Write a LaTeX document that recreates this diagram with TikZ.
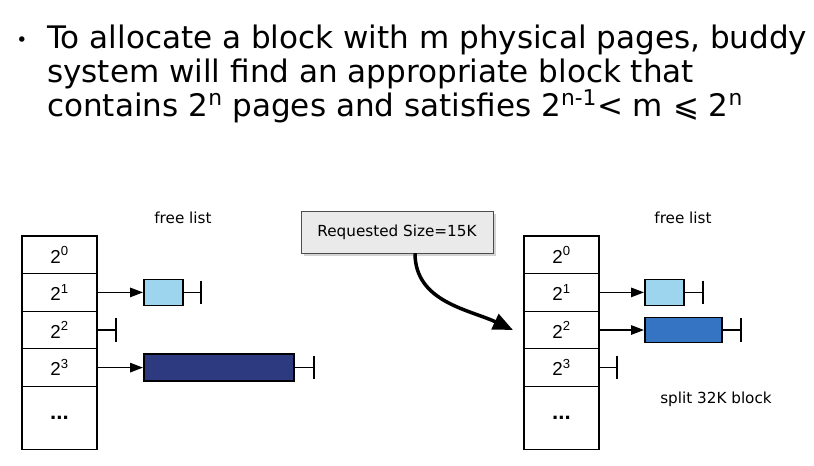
\documentclass[tikz,border=0pt]{standalone}
\usepackage{fontspec}
\setmainfont{DejaVu Sans}
\newfontfamily\cellfont{Liberation Sans}
\usepackage{tikz}
\usetikzlibrary{positioning,arrows.meta,shadows}

\definecolor{lightblk}{HTML}{9DD4EE}
\definecolor{splitblk}{HTML}{3574C2}
\definecolor{bigblk}{HTML}{2D3A7F}
\definecolor{reqgray}{HTML}{EBEAEA}

\begin{document}
\begin{tikzpicture}[
            x=0.03cm, y=-0.03cm,
            cell/.style={draw, line width=0.9pt, minimum width=2.25cm, minimum height=1.128cm,
                         inner sep=0pt, outer sep=0pt, font=\cellfont\fontsize{16}{16}\selectfont},
            blk/.style={draw, line width=1.4pt, minimum height=0.78cm, inner sep=0pt},
            ptr/.style={-{Triangle[length=11pt,width=8pt]}, line width=1.3pt},
            nil/.style={-{Bar[width=20pt]}, line width=1.3pt},
            lbl/.style={font=\fontsize{13}{13}\selectfont},
            title/.style={anchor=base west, inner sep=0pt, font=\fontsize{26.5}{30}\selectfont}
        ]
            \useasboundingbox (0,0) rectangle (814,465);

            % Text
            \node (dot) at (22,42) {\fontsize{16}{16}\selectfont •};
            \node[title] (t1) at (47,48) {To allocate a block with m physical pages, buddy};
            \node[title] (t2) at (47,82) {system will find an appropriate block that};
            \node[title] (t3) at (47,116) {contains 2\textsuperscript{n} pages and satisfies 2\textsuperscript{n-1}< m ⩽ 2\textsuperscript{n}};

            % Free list before
            \node[cell] (l0) at (59.5,254.8) {2\textsuperscript{0}};
            \node[cell,below=0pt of l0] (l1) {2\textsuperscript{1}};
            \node[cell,below=0pt of l1] (l2) {2\textsuperscript{2}};
            \node[cell,below=0pt of l2] (l3) {2\textsuperscript{3}};
            \node[cell,below=0pt of l3,minimum height=1.89cm] (l4) {\fontsize{19}{19}\selectfont\textbf{...}};
            \node[lbl] (fl) at (183,218) {free list};

            \node[blk,fill=lightblk,minimum width=1.17cm,right=1.38cm of l1] (lb1) {};
            \node[blk,fill=bigblk,minimum width=4.5cm,minimum height=0.81cm,right=1.38cm of l3] (lb3) {};
            \coordinate[right=0.54cm of lb1] (ln1);
            \coordinate[right=0.6cm of l2] (ln2);
            \coordinate[right=0.6cm of lb3] (ln3);

            \draw[ptr] (l1) -- (lb1);
            \draw[nil] (lb1) -- (ln1);
            \draw[nil] (l2) -- (ln2);
            \draw[ptr] (l3) -- (lb3);
            \draw[nil] (lb3) -- (ln3);

            % Free list after
            \node[cell] (r0) at (561.5,254.8) {2\textsuperscript{0}};
            \node[cell,below=0pt of r0] (r1) {2\textsuperscript{1}};
            \node[cell,below=0pt of r1] (r2) {2\textsuperscript{2}};
            \node[cell,below=0pt of r2] (r3) {2\textsuperscript{3}};
            \node[cell,below=0pt of r3,minimum height=1.89cm] (r4) {\fontsize{19}{19}\selectfont\textbf{...}};
            \node[lbl] (fr) at (683,218) {free list};
            \node[lbl] (split) at (716,399) {split 32K block};

            \node[blk,fill=lightblk,minimum width=1.17cm,right=1.35cm of r1] (rb1) {};
            \node[blk,fill=splitblk,minimum width=2.31cm,minimum height=0.75cm,right=1.35cm of r2] (rb2) {};
            \coordinate[right=0.57cm of rb1] (rn1);
            \coordinate[right=0.57cm of rb2] (rn2);
            \coordinate[right=0.57cm of r3] (rn3);

            \draw[ptr] (r1) -- (rb1);
            \draw[nil] (rb1) -- (rn1);
            \draw[ptr] (r2) -- (rb2);
            \draw[nil] (rb2) -- (rn2);
            \draw[nil] (r3) -- (rn3);

            % Request
            \node[lbl,draw=black!70,fill=reqgray,drop shadow={opacity=0.35},
                  minimum width=5.76cm,minimum height=1.26cm] (req) at (397,232) {Requested Size=15K};
            \coordinate[left=0.33cm of r2] (hit);
            \draw[line width=3pt,-{Triangle[length=17pt,width=14pt]}] ([xshift=0.54cm]req.south) to[out=-90,in=155] (hit);
        \end{tikzpicture}
\end{document}
